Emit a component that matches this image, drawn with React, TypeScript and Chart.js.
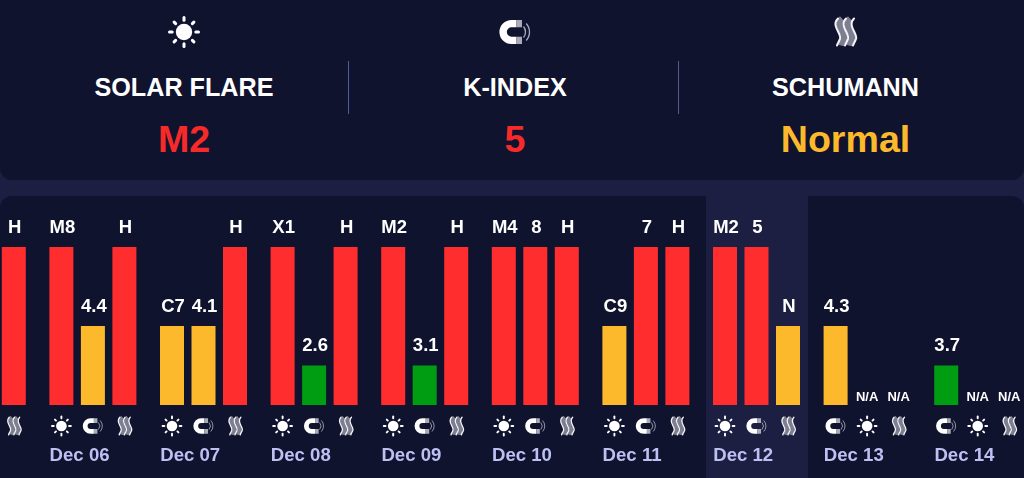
import React, { useEffect, useRef } from "react";
import { Chart, registerables } from "chart.js";

Chart.register(...registerables);

const days = ["Dec 05", "Dec 06", "Dec 07", "Dec 08", "Dec 09", "Dec 10", "Dec 11", "Dec 12", "Dec 13", "Dec 14"];
const slot1Levels = [null, 4, 2, 4, 4, 4, 2, 4, 2, 1];
const slot2Levels = [null, 2, 2, 1, 1, 4, 4, 4, 0, 0];
const slot3Levels = [4, 4, 4, 4, 4, 4, 4, 2, 0, 0];
const slot1Labels = ["", "M8", "C7", "X1", "M2", "M4", "C9", "M2", "4.3", "3.7"];
const slot2Labels = ["", "4.4", "4.1", "2.6", "3.1", "8", "7", "5", "N/A", "N/A"];
const slot3Labels = ["H", "H", "H", "H", "H", "H", "H", "N", "N/A", "N/A"];
const slot1Icons = ["", "sun", "sun", "sun", "sun", "sun", "sun", "sun", "magnet", "magnet"];
const slot2Icons = ["", "magnet", "magnet", "magnet", "magnet", "magnet", "magnet", "magnet", "sun", "sun"];
const slot3Icons = ["wave", "wave", "wave", "wave", "wave", "wave", "wave", "wave", "wave", "wave"];

const RED = "#ff2d2d";
const AMBER = "#fdb92c";
const GREEN = "#009c12";
const levelColor = (v: number | null) => (v === 4 ? RED : v === 2 ? AMBER : GREEN);

const CANVAS_LEFT = -73;

function drawSun(c: CanvasRenderingContext2D) {
  c.fillStyle = "#fff";
  c.strokeStyle = "#fff";
  c.beginPath();
  c.arc(0, 0, 8.2, 0, Math.PI * 2);
  c.fill();
  c.lineWidth = 3;
  c.lineCap = "round";
  for (let i = 0; i < 8; i++) {
    const a = (i * Math.PI) / 4;
    const rOut = i % 2 ? 14 : 14.5;
    c.beginPath();
    c.moveTo(Math.cos(a) * 11.8, Math.sin(a) * 11.8);
    c.lineTo(Math.cos(a) * rOut, Math.sin(a) * rOut);
    c.stroke();
  }
}

function drawMagnet(c: CanvasRenderingContext2D) {
  c.lineCap = "butt";
  c.lineWidth = 7.4;
  c.strokeStyle = "#fff";
  c.beginPath();
  c.moveTo(1.5, -8.4);
  c.lineTo(-3.5, -8.4);
  c.arc(-3.5, 0, 8.4, -Math.PI / 2, Math.PI / 2, true);
  c.lineTo(1.5, 8.4);
  c.stroke();
  c.strokeStyle = "#a9abb8";
  c.beginPath();
  c.moveTo(1.5, -8.4);
  c.lineTo(7, -8.4);
  c.moveTo(1.5, 8.4);
  c.lineTo(7, 8.4);
  c.stroke();
  c.lineWidth = 1.3;
  c.strokeStyle = "#a9abb8";
  c.beginPath();
  c.arc(2, 0, 8.5, -0.7, 0.7);
  c.stroke();
  c.beginPath();
  c.arc(2, 0, 12.5, -0.75, 0.75);
  c.stroke();
}

function wavePath(c: CanvasRenderingContext2D, x: number) {
  c.moveTo(x + 1, -13.5);
  c.bezierCurveTo(x - 7, -6, x + 7, 3, x + 2.5, 8);
  c.bezierCurveTo(x + 1.5, 10.5, x + 0.5, 11.5, x, 13.5);
}

function drawWave(c: CanvasRenderingContext2D) {
  c.strokeStyle = "#7d7f90";
  c.lineJoin = "round";
  c.lineWidth = 6;
  [-4, 4].forEach((x) => {
    c.beginPath();
    wavePath(c, x);
    c.stroke();
  });
  c.strokeStyle = "#f4f4f8";
  c.lineWidth = 2.1;
  c.lineCap = "round";
  [-8, 0, 8].forEach((x) => {
    c.beginPath();
    wavePath(c, x);
    c.stroke();
  });
}

const iconDrawers: Record<string, (c: CanvasRenderingContext2D) => void> = {
  sun: drawSun,
  magnet: drawMagnet,
  wave: drawWave,
};

function drawIcon(c: CanvasRenderingContext2D, name: string, x: number, y: number, s: number) {
  const fn = iconDrawers[name];
  if (!fn) return;
  c.save();
  c.translate(x, y);
  c.scale(s, s);
  fn(c);
  c.restore();
}

const slotLabels = [slot1Labels, slot2Labels, slot3Labels];
const slotIcons = [slot1Icons, slot2Icons, slot3Icons];

const decorations = {
  id: "decorations",
  afterDatasetsDraw(chart: any) {
    const c: CanvasRenderingContext2D = chart.ctx;
    const base = chart.scales.y.getPixelForValue(0);
    c.save();
    c.textAlign = "center";
    c.textBaseline = "middle";
    chart.data.datasets.forEach((_: any, di: number) => {
      const meta = chart.getDatasetMeta(di);
      meta.data.forEach((bar: any, i: number) => {
        const text = slotLabels[di][i];
        const v = chart.data.datasets[di].data[i];
        if (v === null) return;
        c.fillStyle = "#fff";
        if (text === "N/A") {
          c.font = "bold 13px 'Liberation Sans'";
          c.fillText(text, bar.x, base - 8);
        } else {
          c.font = "bold 18.5px 'Liberation Sans'";
          c.fillText(text, bar.x + 1, bar.y - 19.5);
        }
        drawIcon(c, slotIcons[di][i], bar.x, base + 21, 0.65);
      });
    });
    // Header icons, at the page positions of the three summary columns.
    drawIcon(c, "sun", 184 - CANVAS_LEFT, 32, 1);
    drawIcon(c, "magnet", 515 - CANVAS_LEFT, 32, 1);
    drawIcon(c, "wave", 845 - CANVAS_LEFT, 32, 1);
    c.restore();
  },
};

const headerItems = [
  { title: "SOLAR FLARE", value: "M2", color: "#f72a2a", x: 184 },
  { title: "K-INDEX", value: "5", color: "#f72a2a", x: 515 },
  { title: "SCHUMANN", value: "Normal", color: "#fdb92c", x: 845.5 },
];
const separatorsX = [348, 678];

export default function App() {
  const ref = useRef<HTMLCanvasElement>(null);
  useEffect(() => {
    const chart = new Chart(ref.current as HTMLCanvasElement, {
      type: "bar",
      data: {
        labels: days,
        datasets: [slot1Levels, slot2Levels, slot3Levels].map((d) => ({
          data: d,
          backgroundColor: d.map(levelColor),
          borderWidth: 0,
          categoryPercentage: 0.8544,
          barPercentage: 0.762,
        })),
      },
      options: {
        responsive: false,
        animation: false,
        devicePixelRatio: 1,
        layout: { padding: { top: 247, left: 0, right: 0, bottom: 0 } },
        plugins: { legend: { display: false }, tooltip: { enabled: false } },
        scales: {
          y: { display: false, min: 0, max: 4 },
          x: {
            afterFit(s: any) {
              s.height = 73;
              s.paddingLeft = 0;
              s.paddingRight = 0;
            },
            grid: { display: false, drawTicks: false },
            border: { display: false },
            ticks: {
              autoSkip: false,
              maxRotation: 0,
              minRotation: 0,
              align: "start",
              labelOffset: -43.3,
              padding: 40,
              color: "#bcc0f2",
              font: { family: "'Liberation Sans'", weight: "bold", size: 18.6 },
            },
          },
        },
      } as any,
      plugins: [decorations],
    });
    return () => chart.destroy();
  }, []);

  const sans = "'Liberation Sans', Arial, sans-serif";
  return (
    <div style={{ position: "fixed", left: 0, top: 0, width: 1024, height: 478, overflow: "hidden", background: "#1c1f42", fontFamily: sans }}>
      <div style={{ position: "absolute", left: 0, top: 0, width: 1024, height: 180, background: "#10132e", borderRadius: "0 0 12px 12px" }} />
      <div style={{ position: "absolute", left: 0, top: 196, width: 1024, height: 282, background: "#10132e", borderRadius: "12px 12px 0 0" }} />
      <div style={{ position: "absolute", left: 706, top: 196, width: 102, height: 282, background: "#1c1f42" }} />
      {separatorsX.map((x) => (
        <div key={x} style={{ position: "absolute", left: x, top: 61, width: 1, height: 53, background: "#525a9c" }} />
      ))}
      {headerItems.map((h) => (
        <React.Fragment key={h.title}>
          <div style={{ position: "absolute", left: h.x - 150, width: 300, top: 72, lineHeight: "30px", textAlign: "center", color: "#fff", fontWeight: 700, fontSize: 25.2 }}>{h.title}</div>
          <div style={{ position: "absolute", left: h.x - 150, width: 300, top: 117, lineHeight: "44px", textAlign: "center", color: h.color, fontWeight: 700, fontSize: 37.6 }}>{h.value}</div>
        </React.Fragment>
      ))}
      <canvas ref={ref} width={1106} height={478} style={{ position: "absolute", left: CANVAS_LEFT, top: 0, width: 1106, height: 478 }} />
    </div>
  );
}
